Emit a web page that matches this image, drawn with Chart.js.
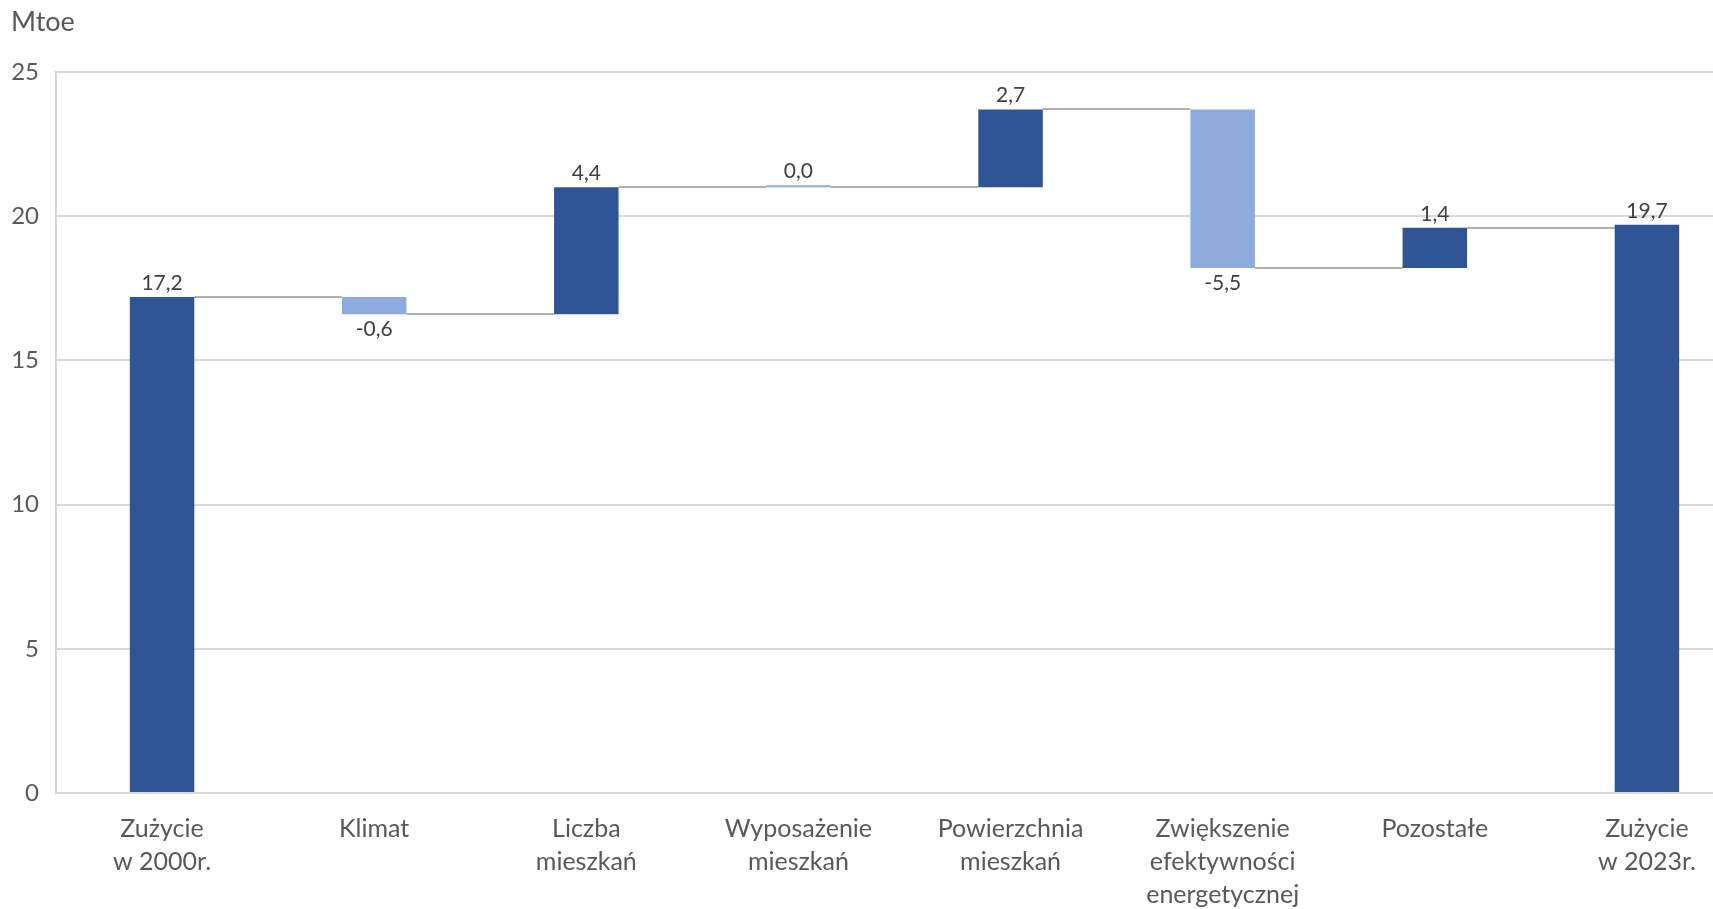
<!DOCTYPE html>
<html>
<head>
<meta charset="utf-8">
<title>Zużycie energii w gospodarstwach domowych</title>
<style>
  html, body { margin: 0; padding: 0; background: #ffffff; overflow: hidden; }
  #wrap { position: relative; width: 1753px; height: 909px; }
</style>
<script src="https://cdn.jsdelivr.net/npm/chart.js@4.4.1/dist/chart.umd.min.js"></script>
</head>
<body>
<div id="wrap"><canvas id="chart"></canvas></div>
<script>
// Categories of the decomposition (first and last are totals)
const categories = [
  ['Zużycie', 'w 2000r.'],
  'Klimat',
  ['Liczba', 'mieszkań'],
  ['Wyposażenie', 'mieszkań'],
  ['Powierzchnia', 'mieszkań'],
  ['Zwiększenie', 'efektywności', 'energetycznej'],
  'Pozostałe',
  ['Zużycie', 'w 2023r.']
];
// Mtoe
const startTotal = 17.2;
const changes = [-0.6, 4.4, 0.0, 2.7, -5.5, 1.4];
const endTotal = 19.7;
const yTicks = [0, 5, 10, 15, 20, 25];
const unitLabel = 'Mtoe';

const DARK = '#2F5597';
const LIGHT = '#8FAADC';
const TEXT = '#595959';
const FONT = 'Lato, Carlito, "Liberation Sans", sans-serif';

// Floating bar ranges and running levels
const ranges = [[0, startTotal]];
const levels = [startTotal];
const labelValues = [startTotal];
let level = startTotal;
changes.forEach(c => {
  const next = Math.round((level + c) * 10) / 10;
  ranges.push([level, next]);
  labelValues.push(c);
  level = next;
  levels.push(level);
});
ranges.push([0, endTotal]);
labelValues.push(endTotal);
levels.push(endTotal);

const colors = labelValues.map((v, i) =>
  (i === 0 || i === labelValues.length - 1 || v > 0) ? DARK : LIGHT);

const fmt = v => v.toFixed(1).replace('.', ',');

// Grey connector lines between consecutive bars
const connectorPlugin = {
  id: 'connectors',
  beforeDatasetsDraw(chart) {
    const meta = chart.getDatasetMeta(0);
    const y = chart.scales.y;
    const ctx = chart.ctx;
    ctx.save();
    ctx.strokeStyle = '#B0B0B0';
    ctx.lineWidth = 2;
    for (let i = 0; i < meta.data.length - 1; i++) {
      const a = meta.data[i], b = meta.data[i + 1];
      const py = Math.round(y.getPixelForValue(levels[i]));
      ctx.beginPath();
      ctx.moveTo(a.x + a.width / 2, py);
      ctx.lineTo(b.x - b.width / 2, py);
      ctx.stroke();
    }
    ctx.restore();
  }
};

// Value labels above rising bars, below falling bars
const valueLabelPlugin = {
  id: 'valueLabels',
  afterDatasetsDraw(chart) {
    const meta = chart.getDatasetMeta(0);
    const ctx = chart.ctx;
    ctx.save();
    ctx.font = '21px ' + FONT;
    ctx.fillStyle = '#404040';
    ctx.textAlign = 'center';
    ctx.textBaseline = 'middle';
    meta.data.forEach((bar, i) => {
      const v = labelValues[i];
      const top = Math.min(bar.y, bar.base);
      const bottom = Math.max(bar.y, bar.base);
      if (v < 0) {
        ctx.fillText(fmt(v), bar.x, bottom + 15);
      } else {
        ctx.fillText(fmt(v), bar.x, top - 14);
      }
    });
    ctx.restore();
  }
};

// Unit caption above the value axis
const unitPlugin = {
  id: 'unit',
  afterDraw(chart) {
    const ctx = chart.ctx;
    ctx.save();
    ctx.font = '27px ' + FONT;
    ctx.fillStyle = TEXT;
    ctx.textAlign = 'left';
    ctx.textBaseline = 'middle';
    ctx.fillText(unitLabel, 11, 22);
    ctx.restore();
  }
};

new Chart(document.getElementById('chart'), {
  type: 'bar',
  data: {
    labels: categories,
    datasets: [{
      data: ranges,
      backgroundColor: colors,
      borderWidth: 0,
      barPercentage: 0.304,
      categoryPercentage: 1,
      minBarLength: 2
    }]
  },
  options: {
    responsive: true,
    maintainAspectRatio: false,
    animation: false,
    layout: { padding: { top: 72, left: 0, right: 0, bottom: 0 } },
    plugins: {
      legend: { display: false },
      tooltip: { enabled: false },
      title: { display: false }
    },
    scales: {
      x: {
        offset: true,
        grid: { display: false, drawTicks: false },
        border: { display: false },
        ticks: {
          color: TEXT,
          font: { family: FONT, size: 25, lineHeight: 1.32 },
          padding: 19,
          maxRotation: 0,
          autoSkip: false
        },
        afterFit(scale) { scale.height = 116; }
      },
      y: {
        min: 0,
        max: 25,
        afterBuildTicks(scale) { scale.ticks = yTicks.map(v => ({ value: v })); },
        grid: { color: '#D9D9D9', lineWidth: 2, drawTicks: false },
        border: { display: true, color: '#D9D9D9', width: 2 },
        ticks: {
          color: TEXT,
          font: { family: FONT, size: 24 },
          padding: 17
        },
        afterFit(scale) { scale.width = 56; }
      }
    }
  },
  plugins: [connectorPlugin, valueLabelPlugin, unitPlugin]
});
</script>
</body>
</html>
